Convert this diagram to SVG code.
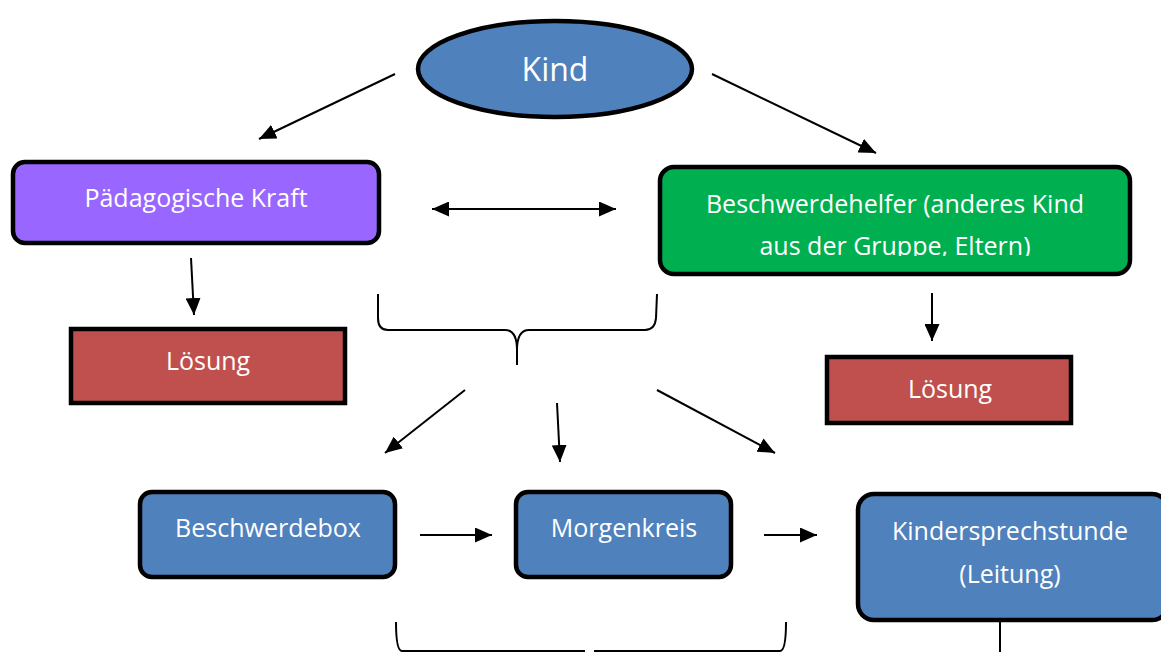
<svg xmlns="http://www.w3.org/2000/svg" width="1161" height="652" viewBox="0 0 1161 652">
<defs>
<marker id="ahb" viewBox="0 0 17 15" refX="17" refY="7.5" markerWidth="17" markerHeight="15" markerUnits="userSpaceOnUse" orient="auto-start-reverse">
<path d="M0,0 L17,7.5 L0,15 Z" fill="#000"/>
</marker>
<clipPath id="clipB"><rect x="660" y="167" width="470" height="89"/></clipPath>
</defs>
<style>
.box{stroke:#000;stroke-width:4.5}
.lbl{font-family:"Open Sans","Liberation Sans",sans-serif;font-size:25px;fill:#fff;text-anchor:middle}
.con{stroke:#000;stroke-width:2;fill:none}
.arr{marker-end:url(#ahb)}
.brace{stroke:#000;stroke-width:2;fill:none}
</style>

<g id="connectors">
<line class="con arr" x1="395" y1="74" x2="259" y2="139"/>
<line class="con arr" x1="712" y1="74" x2="876" y2="153"/>
<line class="con arr" x1="432" y1="209" x2="616" y2="209" style="marker-start:url(#ahb)"/>
<line class="con arr" x1="191" y1="258" x2="194" y2="315"/>
<line class="con arr" x1="932" y1="293" x2="932" y2="341"/>
<path class="brace" d="M378,294 L378,318 Q378,330 388,330 L505,330 Q517,330 517,350 L517,365 M517,350 Q517,330 529,330 L645,330 Q655,330 656,318 L657,294"/>
<line class="con arr" x1="465" y1="390" x2="385" y2="453"/>
<line class="con arr" x1="557" y1="403" x2="560" y2="462"/>
<line class="con arr" x1="657" y1="390" x2="775" y2="453"/>
<line class="con arr" x1="420" y1="535" x2="492" y2="535"/>
<line class="con arr" x1="764" y1="535" x2="817" y2="535"/>
<path class="brace" d="M396,622 Q396,651 402,651 L585,651 M594,651 L780,651 Q786,651 786,622"/>
<line class="con" x1="1000" y1="620" x2="1000" y2="652"/>
</g>

<g id="kind">
<ellipse class="box" cx="555" cy="69" rx="137" ry="48" fill="#4F81BD"/>
<text class="lbl" x="555" y="81" style="font-size:32px">Kind</text>
</g>

<g id="paedagogische-kraft">
<rect class="box" x="13" y="162" width="366" height="81" rx="12" fill="#9966FF"/>
<text class="lbl" x="196" y="207">Pädagogische Kraft</text>
</g>

<g id="beschwerdehelfer">
<rect class="box" x="660" y="167" width="470" height="107" rx="14" fill="#00B050"/>
<g clip-path="url(#clipB)">
<text class="lbl" x="895" y="213">Beschwerdehelfer (anderes Kind</text>
<text class="lbl" x="895" y="255">aus der Gruppe, Eltern)</text>
</g>
</g>

<g id="loesung-links">
<rect class="box" x="71" y="329" width="274" height="74" fill="#C0504D"/>
<text class="lbl" x="208" y="370">Lösung</text>
</g>

<g id="loesung-rechts">
<rect class="box" x="827" y="357" width="244" height="66" fill="#C0504D"/>
<text class="lbl" x="950" y="398">Lösung</text>
</g>

<g id="beschwerdebox">
<rect class="box" x="140" y="492" width="255" height="85" rx="12" fill="#4F81BD"/>
<text class="lbl" x="268" y="537">Beschwerdebox</text>
</g>

<g id="morgenkreis">
<rect class="box" x="516" y="492" width="215" height="85" rx="12" fill="#4F81BD"/>
<text class="lbl" x="624" y="537">Morgenkreis</text>
</g>

<g id="kindersprechstunde">
<rect class="box" x="858" y="494" width="310" height="126" rx="16" fill="#4F81BD"/>
<text class="lbl" x="1010" y="540">Kindersprechstunde</text>
<text class="lbl" x="1010" y="583">(Leitung)</text>
</g>
</svg>
